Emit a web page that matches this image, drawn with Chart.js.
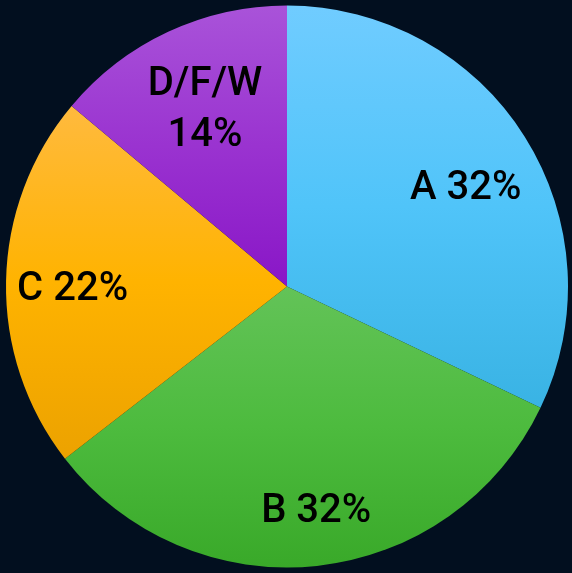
<!DOCTYPE html>
<html>
<head>
<meta charset="utf-8">
<script src="https://cdn.jsdelivr.net/npm/chart.js@4"></script>
<style>
  html, body { margin: 0; padding: 0; background: #020f1f; }
  #wrap { width: 572px; height: 573px; }
</style>
</head>
<body>
<div id="wrap"><canvas id="pie"></canvas></div>
<script>
// --- data ---
const categories = ["A", "B", "C", "D/F/W"];
const shares = [32.1, 32.4, 21.6, 13.9];

// --- styles ---
const TOP_COLOURS = ["#70ccff", "#63c358", "#ffba3e", "#a953d9"];
const MID_COLOURS = ["#50c4f9", "#4dbb3e", "#ffb300", "#9a33d0"];
const BOTTOM_COLOURS = ["#39b3e4", "#39a929", "#eca200", "#8916c7"];
const LABEL_RADIUS = [0.732, 0.795, 0.763, 0.706];
const LABEL_SHIFT_DEG = [2.6, -1.4, -1.0, 0.6];
const LABEL_BREAK = [false, false, false, true];
const FONT_SIZE = 40;
const LINE_HEIGHT = 51;

// vertical extent of one slice, so each slice gets its own gradient
function sliceYRange(p) {
  const ys = [p.y, p.y + Math.sin(p.startAngle) * p.outerRadius, p.y + Math.sin(p.endAngle) * p.outerRadius];
  for (let k = -4; k <= 8; k++) {
    const a = k * Math.PI / 2;
    if (a > p.startAngle && a < p.endAngle) ys.push(p.y + Math.sin(a) * p.outerRadius);
  }
  return [Math.min.apply(null, ys), Math.max.apply(null, ys)];
}

// swaps each slice's fill for a vertical gradient over its own extent
const sliceGradients = {
  id: "sliceGradients",
  beforeDatasetsDraw(chart) {
    const ctx = chart.ctx;
    chart.getDatasetMeta(0).data.forEach(function (arc, i) {
      const p = arc.getProps(["x", "y", "startAngle", "endAngle", "outerRadius"], true);
      const yr = sliceYRange(p);
      const g = ctx.createLinearGradient(0, yr[0], 0, yr[1]);
      g.addColorStop(0, TOP_COLOURS[i]);
      g.addColorStop(0.5, MID_COLOURS[i]);
      g.addColorStop(1, BOTTOM_COLOURS[i]);
      arc.options.backgroundColor = g;
    });
  }
};

// draws the text inside each slice
const sliceLabels = {
  id: "sliceLabels",
  afterDatasetsDraw(chart) {
    const ctx = chart.ctx;
    const meta = chart.getDatasetMeta(0);
    ctx.save();
    ctx.font = "500 " + FONT_SIZE + "px Roboto";
    ctx.fillStyle = "#000";
    ctx.textAlign = "center";
    ctx.textBaseline = "alphabetic";
    meta.data.forEach(function (arc, i) {
      const p = arc.getProps(["x", "y", "startAngle", "endAngle", "outerRadius"], true);
      const mid = (p.startAngle + p.endAngle) / 2 + LABEL_SHIFT_DEG[i] * Math.PI / 180;
      const r = p.outerRadius * LABEL_RADIUS[i];
      const cx = p.x + Math.cos(mid) * r;
      const cy = p.y + Math.sin(mid) * r;
      const pct = Math.round(shares[i]) + "%";
      const lines = LABEL_BREAK[i] ? [categories[i], pct] : [categories[i] + " " + pct];
      lines.forEach(function (line, k) {
        const y = cy + (k - (lines.length - 1) / 2) * LINE_HEIGHT + FONT_SIZE * 0.711 / 2;
        ctx.fillText(line, cx, y);
      });
    });
    ctx.restore();
  }
};

new Chart(document.getElementById("pie"), {
  type: "pie",
  data: {
    labels: categories,
    datasets: [{
      data: shares,
      backgroundColor: TOP_COLOURS,
      borderWidth: 0
    }]
  },
  options: {
    responsive: true,
    maintainAspectRatio: false,
    animation: false,
    layout: { padding: { left: 6, right: 4, top: 5, bottom: 5 } },
    plugins: {
      legend: { display: false },
      tooltip: { enabled: false }
    }
  },
  plugins: [sliceGradients, sliceLabels]
});
</script>
</body>
</html>
